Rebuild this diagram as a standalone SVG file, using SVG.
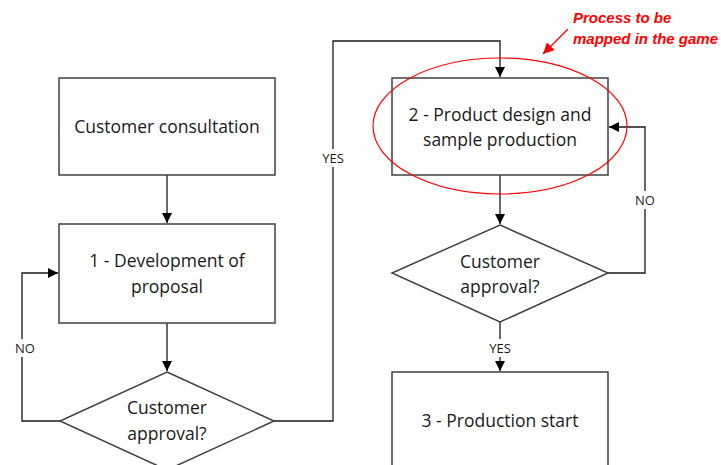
<svg xmlns="http://www.w3.org/2000/svg" width="721" height="465" viewBox="0 0 721 465">
<style>
.box{fill:#fff;stroke:#404040;stroke-width:1.5}
.t{font-family:"Open Sans","Liberation Sans",sans-serif;font-size:17.5px;fill:#1a1a1a;text-anchor:middle}
.lbl{font-family:"Open Sans","Liberation Sans",sans-serif;font-size:13px;fill:#1a1a1a;text-anchor:middle}
.c{fill:none;stroke:#1a1a1a;stroke-width:1.3}
.red{font-family:"Liberation Sans",sans-serif;font-size:15px;font-style:italic;font-weight:bold;fill:#ff0000}
</style>
<defs>
<marker id="ah" viewBox="0 0 10 10" refX="10" refY="5" markerWidth="10" markerHeight="10" markerUnits="userSpaceOnUse" orient="auto">
<path d="M0,0 L10,5 L0,10 z" fill="#000"/>
</marker>
<marker id="rah" viewBox="0 0 10 10" refX="10" refY="5" markerWidth="11" markerHeight="11" markerUnits="userSpaceOnUse" orient="auto">
<path d="M0,0 L10,5 L0,10 z" fill="#ff0000"/>
</marker>
</defs>
<rect width="721" height="465" fill="#fff"/>
<g id="connectors">
<path class="c" d="M167,175 V223" marker-end="url(#ah)"/>
<path class="c" d="M167,323 V371" marker-end="url(#ah)"/>
<path class="c" d="M60,421 H22 V273 H58" marker-end="url(#ah)"/>
<path class="c" d="M274,421 H333 V41 H500 V77" marker-end="url(#ah)"/>
<path class="c" d="M500,175 V224" marker-end="url(#ah)"/>
<path class="c" d="M608,273 H645 V127 H609" marker-end="url(#ah)"/>
<path class="c" d="M500,322 V371" marker-end="url(#ah)"/>
<rect x="10" y="339" width="30" height="18" fill="#fff"/>
<text class="lbl" x="25" y="353">NO</text>
<rect x="316" y="149" width="34" height="18" fill="#fff"/>
<text class="lbl" x="333" y="163">YES</text>
<rect x="630" y="191" width="30" height="18" fill="#fff"/>
<text class="lbl" x="645" y="205">NO</text>
<rect x="483" y="339" width="34" height="18" fill="#fff"/>
<text class="lbl" x="500" y="353">YES</text>
</g>
<g id="n1">
<rect class="box" x="59" y="78" width="216" height="97"/>
<text class="t" x="167" y="133">Customer consultation</text>
</g>
<g id="n2">
<rect class="box" x="59" y="224" width="216" height="99"/>
<text class="t" x="167" y="267">1 - Development of</text>
<text class="t" x="167" y="293">proposal</text>
</g>
<g id="d1">
<polygon class="box" points="167,372 274,421 167,470 60,421"/>
<text class="t" x="167" y="414">Customer</text>
<text class="t" x="167" y="440">approval?</text>
</g>
<g id="n3">
<rect class="box" x="392" y="78" width="216" height="97"/>
<text class="t" x="500" y="121">2 - Product design and</text>
<text class="t" x="500" y="146">sample production</text>
</g>
<g id="d2">
<polygon class="box" points="500,225 608,273 500,322 392,273"/>
<text class="t" x="500" y="268">Customer</text>
<text class="t" x="500" y="293">approval?</text>
</g>
<g id="n4">
<rect class="box" x="392" y="372" width="216" height="110"/>
<text class="t" x="500" y="427">3 - Production start</text>
</g>
<g id="annotation">
<ellipse cx="500" cy="126" rx="127" ry="68" fill="none" stroke="#ff0000" stroke-width="1.2"/>
<path d="M568,29 L543,54" stroke="#ff0000" stroke-width="1.2" fill="none" marker-end="url(#rah)"/>
<text class="red" x="573" y="23">Process to be</text>
<text class="red" x="573" y="44">mapped in the game</text>
</g>
</svg>
